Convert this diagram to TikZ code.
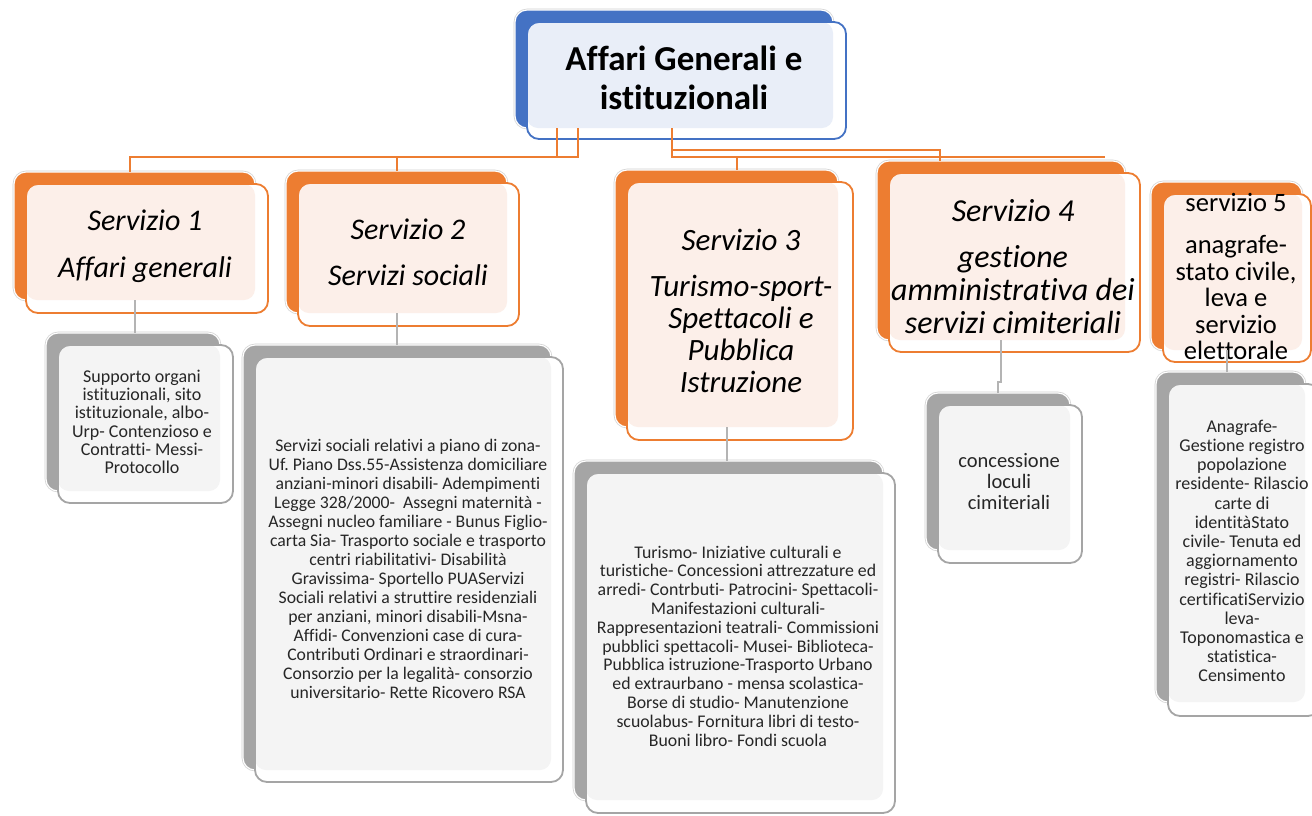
\documentclass[tikz,border=0pt]{standalone}
\usepackage{fontspec}
\setmainfont{Carlito}[Ligatures=NoCommon]
\usetikzlibrary{calc}
\definecolor{odk}{HTML}{ED7D31}
\definecolor{olt}{HTML}{FCEFE9}
\definecolor{bdk}{HTML}{4472C4}
\definecolor{blt}{HTML}{E9EEF8}
\definecolor{gdk}{HTML}{A5A5A5}
\definecolor{glt}{HTML}{F4F4F4}
\definecolor{gln}{HTML}{B4B4B4}
\definecolor{txtc}{HTML}{262626}
\tikzset{
  backbox/.style={rectangle, rounded corners=12, inner sep=0pt, outer sep=0pt,
    preaction={draw=black!18, line width=2.6pt}, draw=white, line width=1.2pt},
  frontbox/.style={rectangle, rounded corners=12, inner sep=0pt, outer sep=0pt,
    fill=white, line width=1.8pt},
  oline/.style={draw=odk, line width=2pt},
  gline/.style={draw=gln, line width=2pt},
  ttl/.style={align=center, inner sep=0pt, text=black},
  det/.style={align=center, inner sep=0pt, text=txtc},
}
\newcommand{\card}[8]{%
  \node[backbox, fill=#8dk, minimum width={#4-#2}, minimum height={#5-#3}] (#1b) at ({(#2+#4)/2},{(#3+#5)/2}) {};
  \node[frontbox, draw=#8dk, minimum width={#6-#2-12}, minimum height={#7-#3-12},
     path picture={\fill[#8lt, rounded corners=11] (path picture bounding box.north west) rectangle (#1b.south east);}]
     (#1) at ({(#2+12+#6)/2},{(#3+12+#7)/2}) {};
}
\begin{document}
\begin{tikzpicture}[x=1pt,y=-1pt]
\useasboundingbox[fill=white] (0,0) rectangle (1312,815);

\card{top}{515}{10}{833}{128}{846}{139}{b}
\card{s1}{14}{172}{255}{300}{268}{313}{o}
\card{s2}{286}{171}{507}{313}{519}{326}{o}
\card{s3}{615}{170}{838}{427}{853}{440}{o}
\card{s4}{877}{161}{1125}{340}{1140}{352}{o}
\card{s5}{1151}{182}{1302}{350}{1311}{362}{o}
\card{d1}{46}{333}{220}{491}{233}{503}{g}
\card{d2}{243}{345}{551}{770}{563}{782}{g}
\card{d3}{574}{461}{883}{800}{895}{813}{g}
\card{d4}{926}{393}{1070}{550}{1082}{563}{g}
\card{d5}{1156}{372}{1305}{702}{1320}{716}{g}

% titles
\node[ttl, font=\bfseries\fontsize{35}{39}\selectfont] (topt) at (684,77.5) {Affari Generali e\\istituzionali};
\node[ttl, font=\itshape\fontsize{30}{32}\selectfont] (s1t) at (145,246.5) {Servizio 1\\[15pt]Affari generali};
\node[ttl, font=\itshape\fontsize{30}{32}\selectfont] (s2t) at (408,252) {Servizio 2\\[14pt]Servizi sociali};
\node[ttl, font=\itshape\fontsize{31}{32}\selectfont] (s3t) at (741,311) {Servizio 3\\[14pt]Turismo-sport-\\Spettacoli e\\Pubblica\\Istruzione};
\node[ttl, font=\itshape\fontsize{32}{33}\selectfont] (s4t) at (1013,267) {Servizio 4\\[13pt]gestione\\amministrativa dei\\servizi cimiteriali};
\node[ttl, font=\fontsize{26.5}{26.5}\selectfont] (s5t) at (1236,276.5) {servizio 5\\[15.5pt]anagrafe-\\stato civile,\\leva e\\servizio\\elettorale};

% details
\node[det, font=\fontsize{18}{18.3}\selectfont] (d1t) at (142,422) {Supporto organi\\istituzionali, sito\\istituzionale, albo-\\Urp- Contenzioso e\\Contratti- Messi-\\Protocollo};
\node[det, font=\fontsize{17.7}{19}\selectfont] (d2t) at (408,569) {Servizi sociali relativi a piano di zona-\\Uf.\ Piano Dss.55-Assistenza domiciliare\\anziani-minori disabili- Adempimenti\\Legge 328/2000-\ \ Assegni maternità -\\Assegni nucleo familiare - Bunus Figlio-\\carta Sia- Trasporto sociale e trasporto\\centri riabilitativi- Disabilità\\Gravissima- Sportello PUAServizi\\Sociali relativi a struttire residenziali\\per anziani, minori disabili-Msna-\\Affidi- Convenzioni case di cura-\\Contributi Ordinari e straordinari-\\Consorzio per la legalità- consorzio\\universitario- Rette Ricovero RSA};
\node[det, font=\fontsize{17.8}{18.8}\selectfont] (d3t) at (738,646) {Turismo- Iniziative culturali e\\turistiche- Concessioni attrezzature ed\\arredi- Contrbuti- Patrocini- Spettacoli-\\Manifestazioni culturali-\\Rappresentazioni teatrali- Commissioni\\pubblici spettacoli- Musei- Biblioteca-\\Pubblica istruzione-Trasporto Urbano\\ed extraurbano - mensa scolastica-\\Borse di studio- Manutenzione\\scuolabus- Fornitura libri di testo-\\Buoni libro- Fondi scuola};
\node[det, font=\fontsize{20.5}{21}\selectfont] (d4t) at (1009,482) {concessione\\loculi\\cimiteriali};
\node[det, font=\fontsize{18}{19.2}\selectfont] (d5t) at (1242,551) {Anagrafe-\\Gestione registro\\popolazione\\residente- Rilascio\\carte di\\identitàStato\\civile- Tenuta ed\\aggiornamento\\registri- Rilascio\\certificatiServizio\\leva-\\Toponomastica e\\statistica-\\Censimento};

% orange connectors
\draw[oline] (topb.south -| 557,0) -- (557,157) -| (s1b.north -| 130,0);
\draw[oline] (topb.south -| 578,0) -- (578,157) -| (s2b.north -| 397,0);
\draw[oline] (topb.south -| 672,0) -- (672,157) -| (s3b.north -| 737,0);
\draw[oline] (topb.south -| 672,0) -- (672,150) -| (s4b.north -| 940,0);
\coordinate (s5end) at (1105,157);
\draw[oline] (672,157) -- (s5end);

% gray connectors
\draw[gline] (s1b.south) -- (s1b.south |- d1b.north);
\draw[gline] (s2b.south) -- (s2b.south |- d2b.north);
\draw[gline] (s3b.south) -- (s3b.south |- d3b.north);
\draw[gline] (s4b.south) -- (s4b.south |- 0,382) -| (d4b.north);
\draw[gline] (s5b.south) -- (s5b.south |- d5b.north);
\end{tikzpicture}
\end{document}
